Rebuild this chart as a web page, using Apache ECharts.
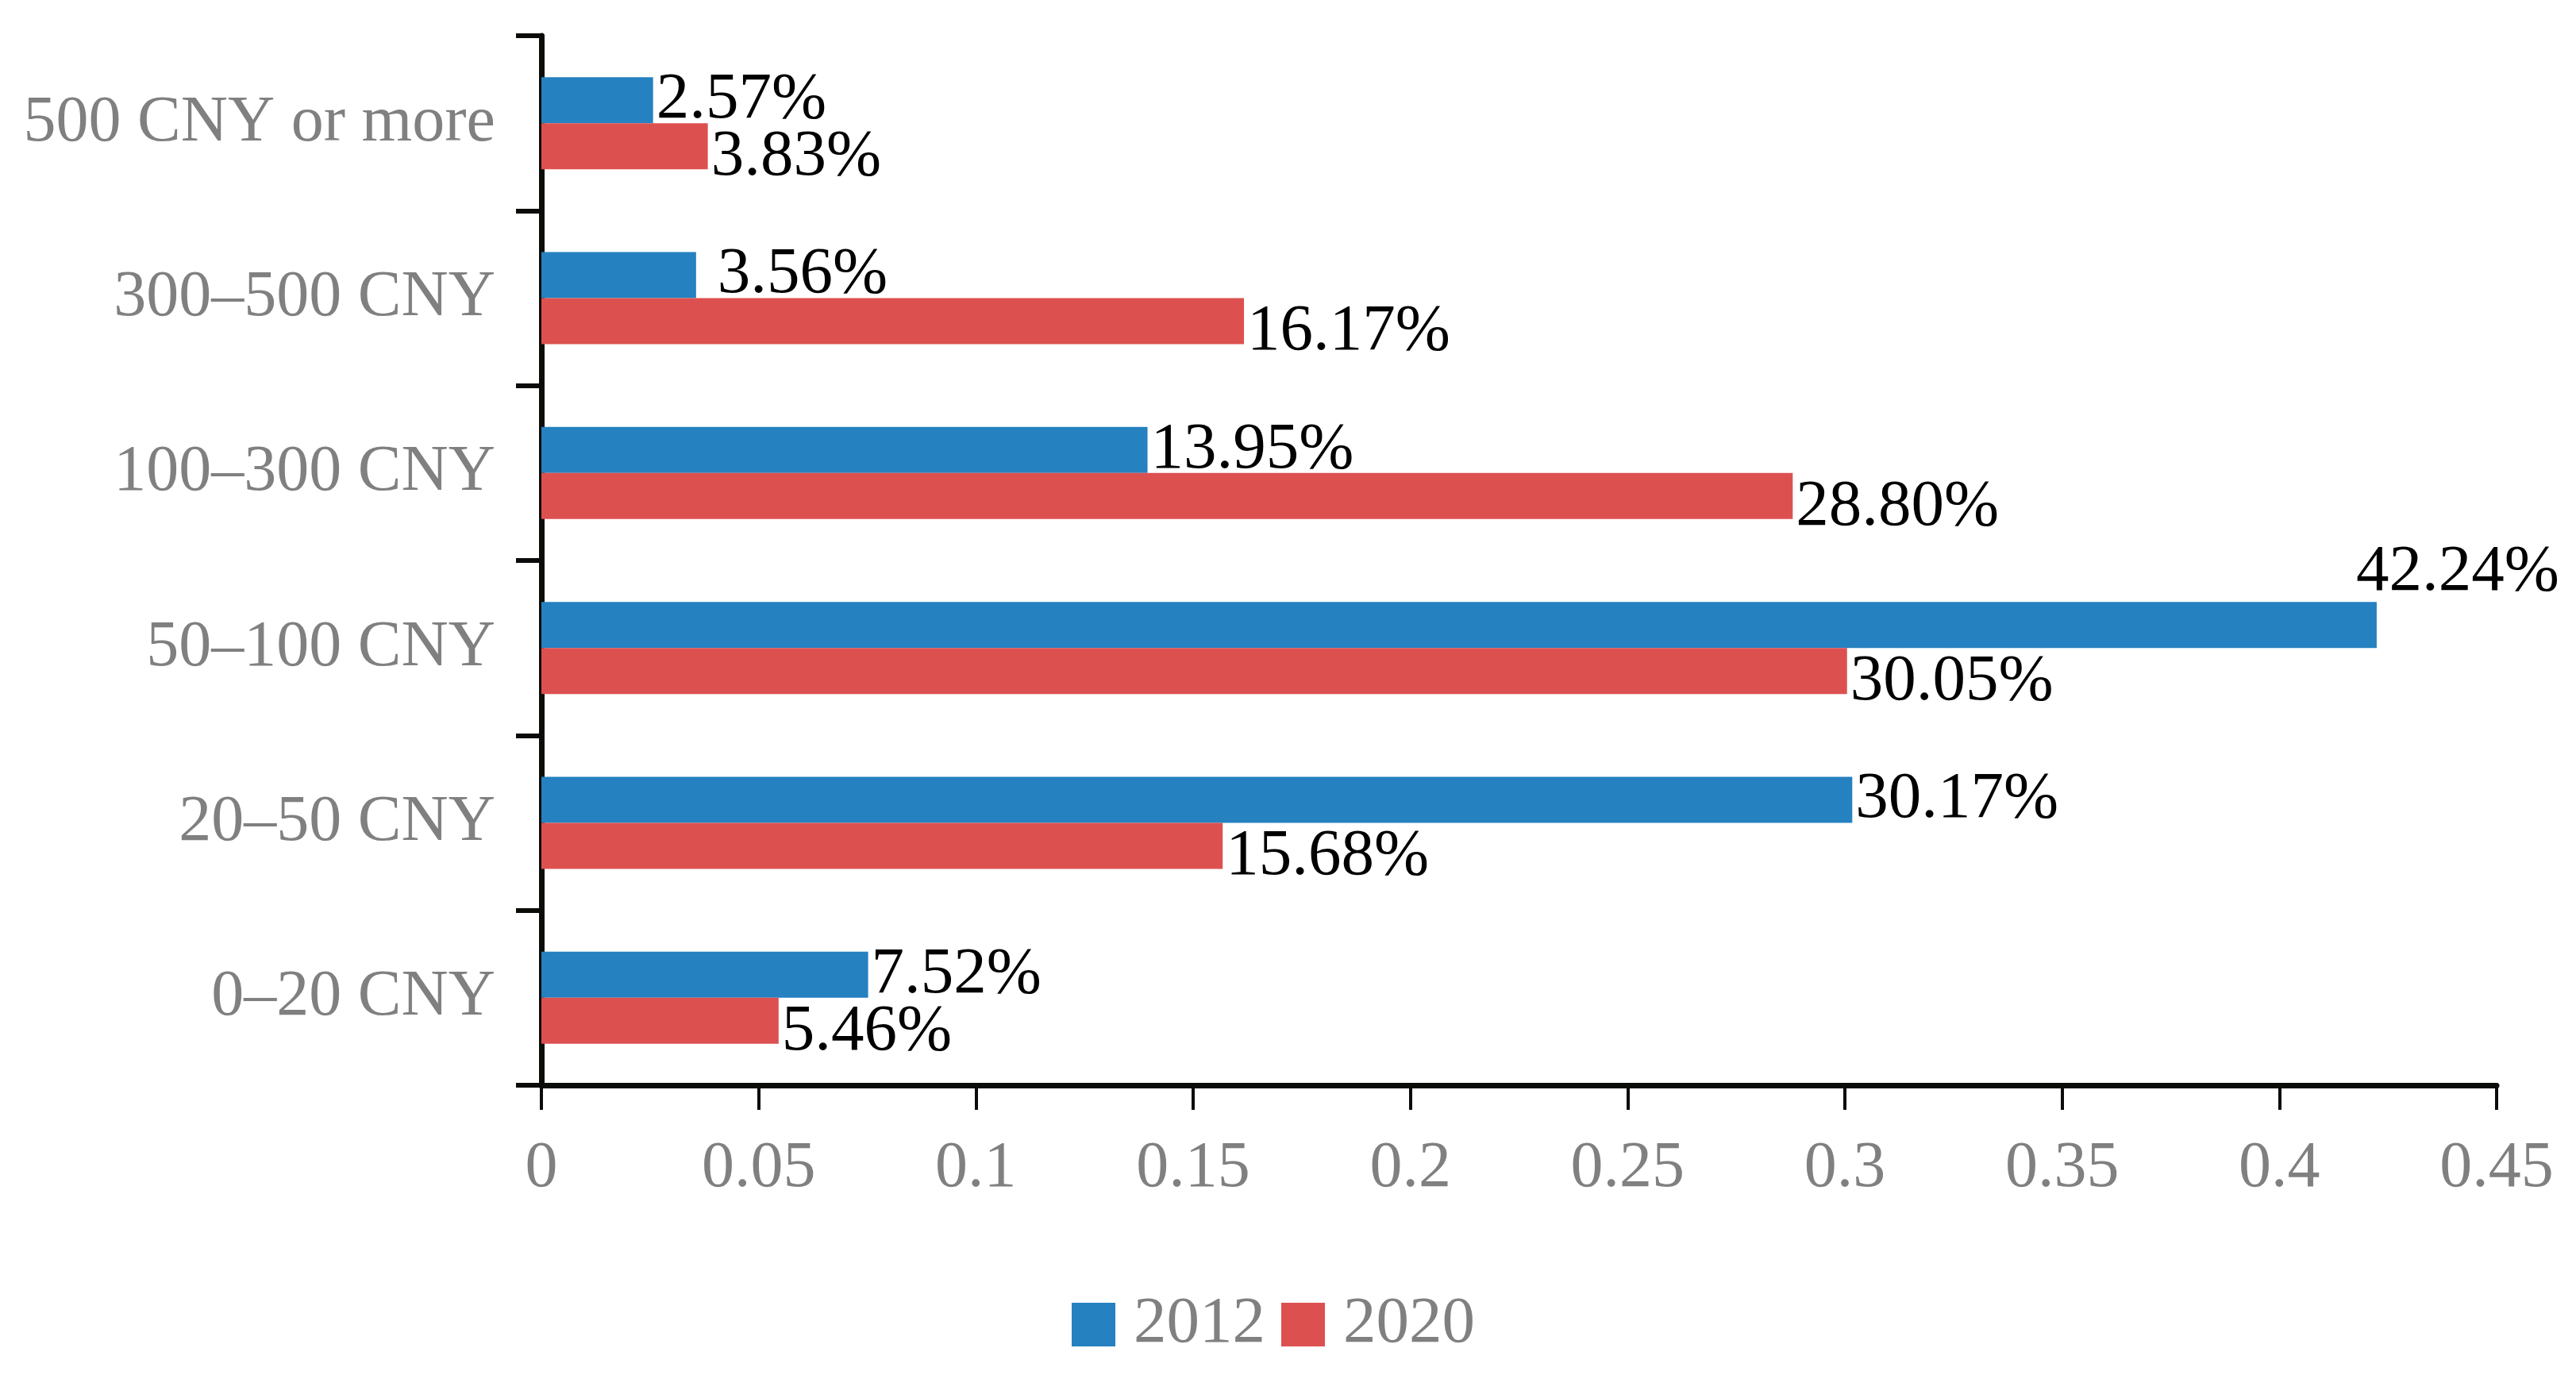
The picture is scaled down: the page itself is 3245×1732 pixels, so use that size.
<!DOCTYPE html>
<html>
<head>
<meta charset="utf-8">
<script src="https://cdn.jsdelivr.net/npm/echarts@6/dist/echarts.min.js"></script>
<style>
html,body{margin:0;padding:0;background:#fff;}
#chart{width:3245px;height:1732px;}
</style>
</head>
<body>
<div id="chart"></div>
<script>
const categories = ['0–20 CNY', '20–50 CNY', '50–100 CNY', '100–300 CNY', '300–500 CNY', '500 CNY or more'];
const values2012 = [0.0752, 0.3017, 0.4224, 0.1395, 0.0356, 0.0257];
const values2020 = [0.0546, 0.1568, 0.3005, 0.2880, 0.1617, 0.0383];
const xTicks = [0, 0.05, 0.1, 0.15, 0.2, 0.25, 0.3, 0.35, 0.4, 0.45];
const seriesNames = ['2012', '2020'];

const FONT = '"Times New Roman", "Liberation Serif", serif';
const BLUE = '#2581c0';
const RED = '#dd5050';
const fmt = p => (p.value * 100).toFixed(2) + '%';

const data2012 = values2012.map((v) => {
  const item = { value: v };
  if (v === 0.4224) item.label = { position: 'right', offset: [-30, -66] };
  if (v === 0.0356) item.label = { distance: 27 };
  return item;
});

const chart = echarts.init(document.getElementById('chart'), null, { renderer: 'canvas' });
chart.setOption({
  animation: false,
  backgroundColor: '#ffffff',
  textStyle: { fontFamily: FONT },
  legend: {
    data: seriesNames,
    left: 1345,
    top: 1622,
    itemWidth: 55,
    itemHeight: 55,
    itemGap: 20,
    icon: 'rect',
    textStyle: { fontFamily: FONT, fontSize: 83, color: '#808080', padding: [0, 0, 0, 18] }
  },
  grid: { left: 682, right: 100, top: 45, bottom: 365, containLabel: false },
  xAxis: {
    type: 'value',
    min: 0,
    max: 0.45,
    interval: 0.05,
    splitLine: { show: false },
    axisLine: { show: true, lineStyle: { color: '#0a0c08', width: 7 } },
    axisTick: { show: true, length: 31, lineStyle: { color: '#0a0c08', width: 4 } },
    axisLabel: {
      fontFamily: FONT, fontSize: 82, color: '#808080', margin: 64,
      formatter: v => { const t = xTicks.find(x => Math.abs(x - v) < 1e-9); return t === undefined ? '' : String(t); }
    }
  },
  yAxis: {
    type: 'category',
    data: categories,
    axisLine: { show: true, lineStyle: { color: '#0a0c08', width: 7 } },
    axisTick: { show: true, length: 32, lineStyle: { color: '#0a0c08', width: 6 } },
    axisLabel: { fontFamily: FONT, fontSize: 82, color: '#808080', margin: 58, padding: [16, 0, 0, 0] }
  },
  series: [
    {
      name: '2012', type: 'bar', data: data2012, barWidth: 58, barGap: '0%',
      itemStyle: { color: BLUE },
      label: { show: true, position: 'right', distance: 4, formatter: fmt,
               fontFamily: FONT, fontSize: 83, color: '#000' }
    },
    {
      name: '2020', type: 'bar', data: values2020, barWidth: 58, barGap: '0%',
      itemStyle: { color: RED },
      label: { show: true, position: 'right', distance: 4, offset: [0, 14], formatter: fmt,
               fontFamily: FONT, fontSize: 83, color: '#000' }
    }
  ]
});
</script>
</body>
</html>
